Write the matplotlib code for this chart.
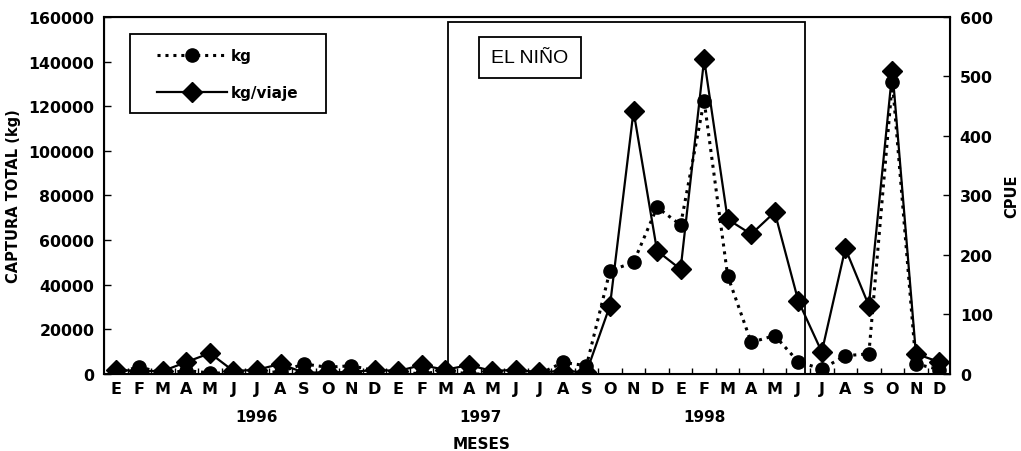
import numpy as np
import matplotlib.pyplot as plt
from matplotlib.patches import Rectangle
from matplotlib.lines import Line2D
from matplotlib.transforms import blended_transform_factory

plt.rcParams['font.family'] = ['DejaVu Sans']
plt.rcParams['font.weight'] = 'bold'

# months from E 1996 to D 1998
months = ["E", "F", "M", "A", "M", "J", "J", "A", "S", "O", "N", "D"] * 3
years = ["1996", "1997", "1998"]
year_pos = [6.0, 15.5, 25.0]

# captura total (kg)
kg = [300, 3300, 200, 1500, 500, 300, 500, 1000, 4500, 3000, 3700, 1500,
      1000, 0, 1500, 0, 0, 0, 0, 5200, 3700, 46300, 50000, 74700,
      66800, 122500, 44000, 14200, 17200, 5500, 2200, 8200, 9000, 131000, 4500, 2000]
# kg/viaje (CPUE)
cpue = [7, 5, 5, 20, 35, 5, 7, 17, 2, 3, 3, 7,
        5, 15, 7, 15, 5, 7, 3, 5, 3, 115, 442, 207,
        176, 529, 260, 235, 272, 123, 37, 211, 115, 510, 34, 20]

x = np.arange(len(months))

fig = plt.figure(figsize=(10.21, 4.52), dpi=100)
ax = fig.add_axes([0.1019, 0.1704, 0.8286, 0.7898])
ax2 = ax.twinx()

ax.plot(x, kg, color="black", lw=2.2, dashes=(1, 1.6), marker="o", ms=9.5)
ax2.plot(x, cpue, color="black", lw=1.6, marker="D", ms=10)

ax.set_xlim(-0.5, 35.45)
ax.set_ylim(0, 160000)
ax2.set_ylim(0, 600)
ax.set_yticks(np.arange(0, 160001, 20000))
ax2.set_yticks(np.arange(0, 601, 100))
ax.set_xticks(x)
ax.set_xticklabels(months)
ax.set_xticks(np.arange(0.5, 35, 1), minor=True)

ax.tick_params(axis="x", which="major", length=0, pad=5, labelsize=11.5)
ax.tick_params(axis="x", which="minor", direction="in", length=4, width=1)
ax.tick_params(axis="y", direction="in", length=5, width=1, labelsize=11.3, pad=7)
ax2.tick_params(axis="y", direction="in", length=5, width=1, labelsize=11.3, pad=7)
for s in ax2.spines.values():
    s.set_linewidth(1.5)

ax.set_ylabel("CAPTURA TOTAL (kg)", fontsize=10.5, fontweight="bold", labelpad=5)
ax2.set_ylabel("CPUE", fontsize=10.5, fontweight="bold", labelpad=8)

trans = blended_transform_factory(ax.transData, fig.transFigure)
for yr, xp in zip(years, year_pos):
    ax.text(xp, 1 - 418 / 452, yr, transform=trans, ha="center", va="center",
            fontsize=11, fontweight="bold")
fig.text(482 / 1021, 1 - 445 / 452, "MESES", ha="center", va="center",
         fontsize=11, fontweight="bold")

# El Nino period box
ax.add_patch(Rectangle((14.1, 0), 15.2, 157700, fill=False, ec="black", lw=1.3, zorder=1))
ax.text(17.6, 0.886, "EL NIÑO", transform=blended_transform_factory(ax.transData, ax.transAxes),
        ha="center", va="center", fontsize=14, fontweight="normal",
        family="Liberation Sans",
        bbox=dict(boxstyle="square,pad=0.62", fc="white", ec="black", lw=1.3))

# legend box
ax2.add_patch(Rectangle((0.0307, 0.731), 0.2317, 0.221, transform=ax2.transAxes,
                        fill=True, fc="white", ec="black", lw=1.3, zorder=5))
handles = [Line2D([], [], color="black", lw=2.2, dashes=(1, 1.6), marker="o", ms=9.5),
           Line2D([], [], color="black", lw=1.6, marker="D", ms=10)]
leg = ax2.legend(handles, ["kg", "kg/viaje"], loc="upper left",
                 bbox_to_anchor=(0.0626, 0.913), frameon=False, borderpad=0,
                 borderaxespad=0, handlelength=4.6, handletextpad=0.2,
                 labelspacing=1.46, prop=dict(weight="bold", size=11))
leg.set_zorder(6)

fig.savefig("out.png", dpi=100)
